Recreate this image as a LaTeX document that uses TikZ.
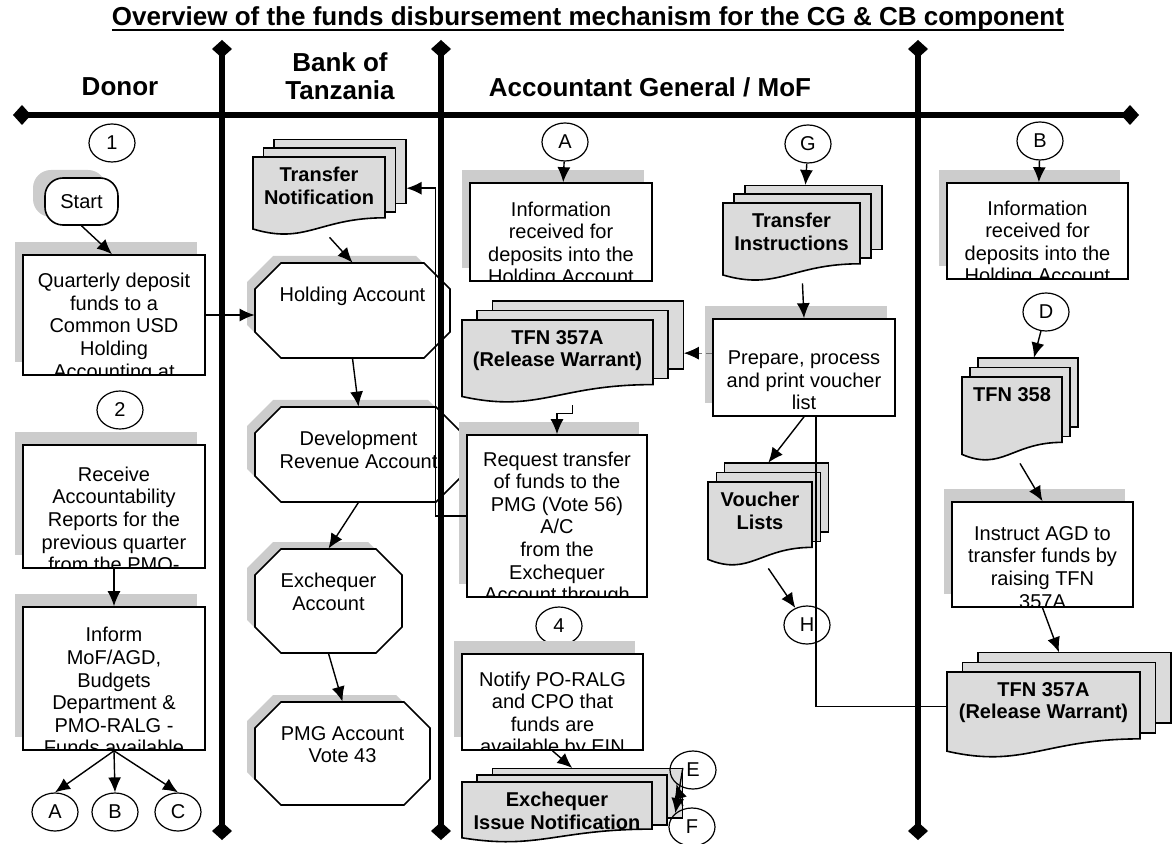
\documentclass[tikz,border=0pt]{standalone}
\usepackage{fontspec}
\setmainfont{Liberation Sans}
\usetikzlibrary{positioning,arrows.meta,shapes.geometric,calc}

% process box: shadow, frame, text cut at the frame
\newcommand\procbox[6]{%
  \fill[shdw] ({#2-8},{#3-13}) rectangle ({#4-8},{#5-13});
  \node[proc, minimum width={(#4-#2)*0.5pt}, minimum height={(#5-#3)*0.5pt},
    path picture={\node[txt, anchor=north] at ([yshift=-6pt]path picture bounding box.north) {#6};}]
    (#1) at ({(#2+#4)/2},{(#3+#5)/2}) {};}
% octagon (account)
\newcommand\octpath[4]{({#1+26},#2) -- ({#3-26},#2) -- (#3,{#2+26}) -- (#3,{#4-26}) -- ({#3-26},#4) -- ({#1+26},#4) -- (#1,{#4-26}) -- (#1,{#2+26}) -- cycle}
\newcommand\octbox[6]{%
  \fill[shdw, shift={(-8,-7)}] \octpath{#2}{#3}{#4}{#5};
  \draw[fill=white, line width=0.8pt] \octpath{#2}{#3}{#4}{#5};
  \node[inner sep=0, minimum width={(#4-#2)*0.5pt}, minimum height={(#5-#3)*0.5pt}] (#1) at ({(#2+#4)/2},{(#3+#5)/2}) {};
  \node[txt, anchor=north] at ({(#2+#4)/2},{#3+24}) {#6};}
% stack of documents
\newcommand\docstack[6]{%
  \pgfmathsetmacro\docdx{0.08*#4}\pgfmathsetmacro\docdy{0.11*#5}
  \filldraw[sheet] ({#2+2*\docdx},{#3-2*\docdy}) rectangle ({#2+#4+2*\docdx},{#3-2*\docdy+0.8*#5});
  \filldraw[sheet] ({#2+\docdx},{#3-\docdy}) rectangle ({#2+#4+\docdx},{#3-\docdy+0.8*#5});
  \filldraw[sheet] (#2,#3) -- ({#2+#4},#3) -- ({#2+#4},{#3+0.76*#5})
    .. controls ({#2+0.5*#4},{#3+0.76*#5}) and ({#2+0.4*#4},{#3+1.1*#5}) .. (#2,{#3+0.9*#5}) -- cycle;
  \node[inner sep=0, minimum width={(#4+2*\docdx)*0.5pt}, minimum height={(#5+2*\docdy)*0.5pt}]
    (#1) at ({#2+#4/2+\docdx},{#3+#5/2-\docdy}) {};
  \node[doctext, anchor=north] at ({#2+#4/2},{#3+10}) {#6};}
\newcommand\ulbold[1]{\setbox0\hbox{#1}\rlap{\rule[-2.6pt]{\wd0}{0.9pt}}\box0}

\begin{document}
\begin{tikzpicture}[x=0.5pt, y=-0.5pt,
  shdw/.style={fill=black!20},
  proc/.style={draw, fill=white, line width=0.8pt, inner sep=0},
  txt/.style={align=center, inner sep=0, font=\fontsize{10}{11.3}\selectfont},
  doctext/.style={align=center, inner sep=0, font=\fontsize{10}{11.3}\selectfont\bfseries},
  sheet/.style={draw, fill=black!14, line width=0.8pt},
  lbl/.style={draw, ellipse, minimum width=23pt, minimum height=19pt, inner sep=0, line width=0.6pt, font=\fontsize{10}{11}\selectfont},
  term/.style={draw, fill=white, rounded corners=9pt, line width=0.8pt, minimum width=36.5pt, minimum height=23.5pt, font=\fontsize{10}{11}\selectfont},
  head/.style={font=\fontsize{13}{14}\selectfont\bfseries, align=center},
  lane/.style={line width=3.2pt, arrows={Diamond[length=9pt,width=10pt]-Diamond[length=9pt,width=10pt]}},
  arr/.style={line width=0.7pt, -{Latex[length=7.5pt,width=6.5pt]}},
  dsh/.style={densely dashed, draw=black!55, -{Latex[length=7.5pt,width=6.5pt,color=black]}}]
\useasboundingbox (0,0) rectangle (1172,844);

% headings
\node[head] (title) at (588,19) {\ulbold{Overview of the funds disbursement mechanism for the CG \& CB component}};
\node[head] (hdonor) at (120,87) {Donor};
\node[head] (hbot) at (340,76) {Bank of\\Tanzania};
\node[head] (hag) at (650,87) {Accountant General / MoF};

% Donor
\node[lbl] (c1) at (112,143) {1};
\fill[shdw, rounded corners=9pt] (33,170) rectangle (106,217);
\node[term] (start) at (81.5,201.5) {Start};
\procbox{q1}{23}{255}{205}{375}{Quarterly deposit\\funds to a\\Common USD\\Holding\\Accounting at}
\node[lbl] (c2) at (120,410) {2};
\procbox{rcv}{23}{445}{205}{568}{Receive\\Accountability\\Reports for the\\previous quarter\\from the PMO-}
\procbox{inf}{23}{607}{205}{750}{Inform\\MoF/AGD,\\Budgets\\Department \&\\PMO-RALG -\\Funds available}
\node[lbl] (la) at (55,812) {A};
\node[lbl] (lb) at (115,812) {B};
\node[lbl] (lc) at (178,812) {C};

% Bank of Tanzania
\docstack{tn}{253}{157}{132}{80}{Transfer\\Notification}
\octbox{hold}{255}{263}{450}{358}{Holding Account}
\octbox{dra}{255}{407}{462}{502}{Development\\Revenue Account}
\octbox{exa}{255}{549}{402}{653}{Exchequer\\Account}
\octbox{pmg}{255}{702}{430}{805}{PMG Account\\Vote 43}

% Accountant General / MoF
\node[lbl] (ga) at (565,142) {A};
\procbox{infa}{470}{183}{652}{281}{Information\\received for\\deposits into the\\Holding Account}
\docstack{tfna}{462}{320}{191}{85}{TFN 357A\\(Release Warrant)}
\procbox{req}{467}{435}{647}{597}{Request transfer\\of funds to the\\PMG (Vote 56)\\A/C\\from the\\Exchequer\\Account through}
\node[lbl] (g4) at (559,626) {4};
\procbox{notify}{462}{654}{643}{750}{Notify PO-RALG\\and CPO that\\funds are\\available by EIN}
\docstack{ein}{462}{782}{190}{62}{Exchequer\\Issue Notification}
\node[lbl] (ge) at (693,770) {E};
\node[lbl] (gf) at (692,827) {F};
\node[lbl] (gg) at (808,144) {G};
\docstack{ti}{723}{203}{137}{80}{Transfer\\Instructions}
\procbox{prep}{713}{319}{895}{416}{Prepare, process\\and print voucher\\list}
\docstack{vl}{708}{482}{104}{86}{Voucher\\Lists}
\node[lbl] (gh) at (807,625) {H};

% right lane
\node[lbl] (gb) at (1040,141) {B};
\procbox{infb}{947}{183}{1128}{279}{Information\\received for\\deposits into the\\Holding Account}
\node[lbl] (gd) at (1046,312) {D};
\docstack{t358}{962}{377}{100}{86}{TFN 358}
\procbox{instr}{952}{502}{1133}{607}{Instruct AGD to\\transfer funds by\\raising TFN\\357A}
\docstack{tfnr}{947}{672}{193}{88}{TFN 357A\\(Release Warrant)}

% swimlanes
\draw[lane] (13,115) -- (1139,115);
\foreach \lx in {222,441,918}
  \draw[lane] (\lx,40) -- (\lx,840);

% flows
\draw[arr] (start.south) -- ([xshift=-1pt]q1.north);
\draw[arr] (q1.east) -- (q1.east -| hold.west);
\draw[arr] (rcv) -- (inf);
\draw[arr] (inf.south) -- (la.north);
\draw[arr] (inf.south) -- (lb.north);
\draw[arr] (inf.south) -- (lc.north);
\draw[arr] (tn.south) -- (hold.north);
\draw[arr] (hold.south) -- (dra.north);
\draw[arr] (dra.south) -- (exa.north);
\draw[arr] (exa.south) -- (pmg.north);
\draw[arr] (req.west) -- ++(-31,0) |- (tn.east);
\draw[arr] (ga) -- (infa);
\draw[arr] (gg) -- (ti);
\draw[arr] (ti.south) -- (prep.north);
\draw[dsh] (prep.west |- tfna.east) -- (tfna.east);
\draw[arr] (tfna.south) -- ++(0,8) -| (req.north);
\draw[arr] (prep.south) -- (vl.north);
\draw[arr] (vl.south) -- (gh);
\draw[line width=0.7pt] (tfnr.west) -| ($(prep.south)+(12,0)$);
\draw[arr] (notify.south) -- (ein.north);
\draw[arr] (ein.east) -- (ge.south west);
\draw[arr] (ein.north east) -- (gf.north west);
\draw[arr] (gb) -- (infb);
\draw[arr] (gd) -- (t358);
\draw[arr] (t358.south) -- (instr.north);
\draw[arr] (instr.south) -- (tfnr.north);
\end{tikzpicture}
\end{document}
